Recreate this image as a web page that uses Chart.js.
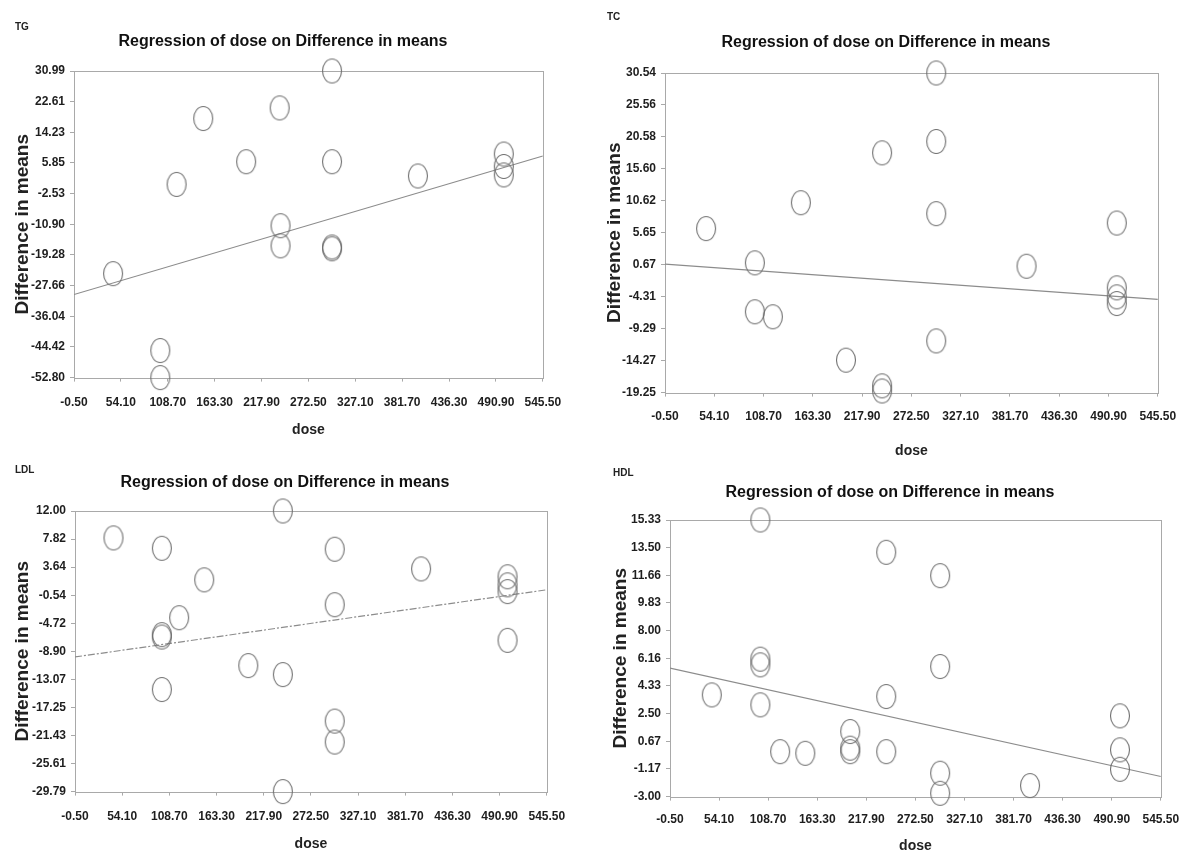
<!DOCTYPE html>
<html>
<head>
<meta charset="utf-8">
<title>Regression of dose on Difference in means</title>
<script src="https://cdn.jsdelivr.net/npm/chart.js@4.4.1/dist/chart.umd.min.js"></script>
<style>
    html, body { margin: 0; padding: 0; background: #fff; }
    body { width: 1187px; height: 854px; position: relative; overflow: hidden; }
    canvas { position: absolute; }
</style>
</head>
<body>
<canvas id="tgChart"></canvas>
<canvas id="tcChart"></canvas>
<canvas id="ldlChart"></canvas>
<canvas id="hdlChart"></canvas>
<script>
// --- Data ---
const doseTicks = [-0.50, 54.10, 108.70, 163.30, 217.90, 272.50, 327.10, 381.70, 436.30, 490.90, 545.50];

const tgTicks = [-52.80, -44.42, -36.04, -27.66, -19.28, -10.90, -2.53, 5.85, 14.23, 22.61, 30.99];
const tgDose = [45, 100, 100, 119, 150, 200, 239, 240, 240, 300, 300, 300, 300, 400, 500, 500, 500];
const tgDiff = [-24.4, -45.4, -52.8, 0.0, 18.0, 6.2, 20.9, -11.3, -16.8, 30.99, 6.2, -17.1, -17.6, 2.3, 8.3, 4.9, 2.6];
const tgFit = [-30.1, 7.75];

const tcTicks = [-19.25, -14.27, -9.29, -4.31, 0.67, 5.65, 10.62, 15.60, 20.58, 25.56, 30.54];
const tcDose = [45, 99, 99, 119, 150, 200, 240, 240, 240, 300, 300, 300, 300, 400, 500, 500, 500, 500];
const tcDiff = [6.3, 0.96, -6.66, -7.44, 10.33, -14.2, 18.1, -18.2, -19.0, 30.54, 19.87, 8.63, -11.2, 0.44, 7.17, -2.93, -4.33, -5.37];
const tcFit = [0.75, -4.74];

const ldlTicks = [-29.79, -25.61, -21.43, -17.25, -13.07, -8.90, -4.72, -0.54, 3.64, 7.82, 12.00];
const ldlDose = [44, 100, 100, 100, 100, 120, 149, 200, 240, 240, 240, 300, 300, 300, 300, 400, 500, 500, 500, 500];
const ldlDiff = [7.99, 6.45, -6.42, -6.77, -14.59, -3.89, 1.75, -11.02, 12.0, -12.36, -29.79, 6.31, -1.96, -19.29, -22.41, 3.38, 2.2, 1.0, 0.0, -7.26];
const ldlFit = [-9.74, 0.27];

const hdlTicks = [-3.00, -1.17, 0.67, 2.50, 4.33, 6.16, 8.00, 9.83, 11.66, 13.50, 15.33];
const hdlDose = [46, 100, 100, 100, 100, 122, 150, 200, 200, 200, 240, 240, 240, 300, 300, 300, 300, 400, 500, 500, 500];
const hdlDiff = [3.74, 15.33, 6.11, 5.73, 3.08, -0.02, -0.13, 1.31, 0.21, -0.02, 13.19, 3.63, -0.02, 11.64, 5.62, -1.45, -2.78, -2.27, 2.35, 0.10, -1.19];
const hdlFit = [5.51, -1.67];

const chartTitle = 'Regression of dose on Difference in means';

// --- Look ---
const FONT = "'Liberation Sans', Arial, sans-serif";
const TAG_SIZE = 10, TAG_LH = 0.6;
const TITLE_SIZE = 16, TITLE_LH = 1.0;
const TICK_SIZE = 12, TICK_LH = 1.2, TICK_LEN = 4;
const DOSE_SIZE = 14, DOSE_LH = 1.2;
const YTITLE_SIZE = 19, YTITLE_LH = 0.8;
const PAD_RIGHT = 24;

// target pixel boxes of each panel on the page
const panels = [
    { id: 'tgChart', tag: 'TG', dose: tgDose, diff: tgDiff, fit: tgFit, ticks: tgTicks, dashed: false,
      box: { canvasX: 0, canvasY: 0, left: 74, right: 551, top: 71, bottom: 378, tagY: 27, titleX: 283, titleY: 42, tickY: 403, doseY: 431 } },
    { id: 'tcChart', tag: 'TC', dose: tcDose, diff: tcDiff, fit: tcFit, ticks: tcTicks, dashed: false,
      box: { canvasX: 590, canvasY: 0, left: 665, right: 1165, top: 73, bottom: 393, tagY: 17, titleX: 886, titleY: 43, tickY: 417, doseY: 452 } },
    { id: 'ldlChart', tag: 'LDL', dose: ldlDose, diff: ldlDiff, fit: ldlFit, ticks: ldlTicks, dashed: true,
      box: { canvasX: 0, canvasY: 445, left: 75, right: 555, top: 511, bottom: 792, tagY: 470, titleX: 285, titleY: 483, tickY: 817, doseY: 845 } },
    { id: 'hdlChart', tag: 'HDL', dose: hdlDose, diff: hdlDiff, fit: hdlFit, ticks: hdlTicks, dashed: false,
      box: { canvasX: 590, canvasY: 455, left: 670, right: 1167, top: 520, bottom: 797, tagY: 473, titleX: 890, titleY: 493, tickY: 820, doseY: 847 } }
];

// --- Hollow elliptical marker ---
function makeRing() {
    const c = document.createElement('canvas');
    c.width = 22;
    c.height = 27;
    const ctx = c.getContext('2d');
    ctx.strokeStyle = '#6e6e6e';
    ctx.lineWidth = 1.1;
    ctx.beginPath();
    ctx.ellipse(11, 13.5, 9.5, 12, 0, 0, Math.PI * 2);
    ctx.stroke();
    return c;
}
const ring = makeRing();

// --- Box around the plot area ---
const framePlugin = {
    id: 'frame',
    beforeDatasetsDraw(chart) {
        const { ctx, chartArea: a } = chart;
        ctx.save();
        ctx.strokeStyle = '#a9a9a9';
        ctx.lineWidth = 1;
        ctx.strokeRect(Math.round(a.left) + 0.5, Math.round(a.top) + 0.5,
            Math.round(a.right - a.left), Math.round(a.bottom - a.top));
        ctx.restore();
    }
};

function makePanel(p) {
    const b = p.box;
    const canvas = document.getElementById(p.id);
    const xBottom = b.doseY + DOSE_SIZE * DOSE_LH / 2;
    canvas.width = b.right + PAD_RIGHT - b.canvasX;
    canvas.height = Math.round(xBottom - b.canvasY);
    canvas.style.left = b.canvasX + 'px';
    canvas.style.top = b.canvasY + 'px';

    const padLeft = 2 * b.titleX - b.right - b.canvasX;
    const tagLine = TAG_SIZE * TAG_LH;
    const titleLine = TITLE_SIZE * TITLE_LH;
    const tickColor = '#1e1e1e';
    const tickFont = { family: FONT, size: TICK_SIZE, weight: 'bold', lineHeight: TICK_LH };

    new Chart(canvas, {
        type: 'scatter',
        data: {
            datasets: [
                {
                    data: p.dose.map((d, i) => ({ x: d, y: p.diff[i] })),
                    pointStyle: ring,
                    pointRadius: 10,
                    clip: false,
                    order: 1
                },
                {
                    data: [
                        { x: doseTicks[0], y: p.fit[0] },
                        { x: doseTicks[doseTicks.length - 1], y: p.fit[1] }
                    ],
                    showLine: true,
                    borderColor: '#8c8c8c',
                    borderWidth: 1.2,
                    borderDash: p.dashed ? [7, 2, 2, 2] : [],
                    pointRadius: 0,
                    order: 2
                }
            ]
        },
        options: {
            responsive: false,
            animation: false,
            layout: { padding: { left: padLeft, right: PAD_RIGHT, top: 0, bottom: 0 } },
            plugins: {
                legend: { display: false },
                tooltip: { enabled: false },
                title: {
                    display: true,
                    text: p.tag,
                    align: 'start',
                    color: '#222',
                    font: { family: FONT, size: TAG_SIZE, weight: 'bold', lineHeight: TAG_LH },
                    padding: { top: b.tagY - b.canvasY - tagLine / 2, bottom: 0 }
                },
                subtitle: {
                    display: true,
                    text: chartTitle,
                    color: '#111',
                    font: { family: FONT, size: TITLE_SIZE, weight: 'bold', lineHeight: TITLE_LH },
                    padding: {
                        top: b.titleY - b.tagY - tagLine / 2 - titleLine / 2,
                        bottom: b.top - b.titleY - titleLine / 2
                    }
                }
            },
            scales: {
                x: {
                    type: 'linear',
                    min: doseTicks[0],
                    max: doseTicks[doseTicks.length - 1],
                    afterBuildTicks: (sc) => { sc.ticks = doseTicks.map(v => ({ value: v })); },
                    afterFit: (sc) => { sc.height = xBottom - b.bottom; },
                    grid: { drawOnChartArea: false, tickLength: TICK_LEN, color: '#a9a9a9' },
                    border: { display: false },
                    ticks: {
                        autoSkip: false,
                        maxRotation: 0,
                        color: tickColor,
                        font: tickFont,
                        padding: b.tickY - b.bottom - TICK_LEN - TICK_SIZE * TICK_LH / 2,
                        callback: (v) => Number(v).toFixed(2)
                    },
                    title: {
                        display: true,
                        text: 'dose',
                        color: '#222',
                        font: { family: FONT, size: DOSE_SIZE, weight: 'bold', lineHeight: DOSE_LH },
                        padding: 0
                    }
                },
                y: {
                    type: 'linear',
                    min: p.ticks[0],
                    max: p.ticks[p.ticks.length - 1],
                    afterBuildTicks: (sc) => { sc.ticks = p.ticks.map(v => ({ value: v })); },
                    afterFit: (sc) => { sc.width = b.left - b.canvasX - padLeft; },
                    grid: { drawOnChartArea: false, tickLength: TICK_LEN, color: '#a9a9a9' },
                    border: { display: false },
                    ticks: {
                        autoSkip: false,
                        color: tickColor,
                        font: tickFont,
                        padding: 5,
                        callback: (v) => Number(v).toFixed(2)
                    },
                    title: {
                        display: true,
                        text: 'Difference in means',
                        color: '#222',
                        font: { family: FONT, size: YTITLE_SIZE, weight: 'bold', lineHeight: YTITLE_LH },
                        padding: 0
                    }
                }
            }
        },
        plugins: [framePlugin]
    });
}

panels.forEach(makePanel);
</script>
</body>
</html>
